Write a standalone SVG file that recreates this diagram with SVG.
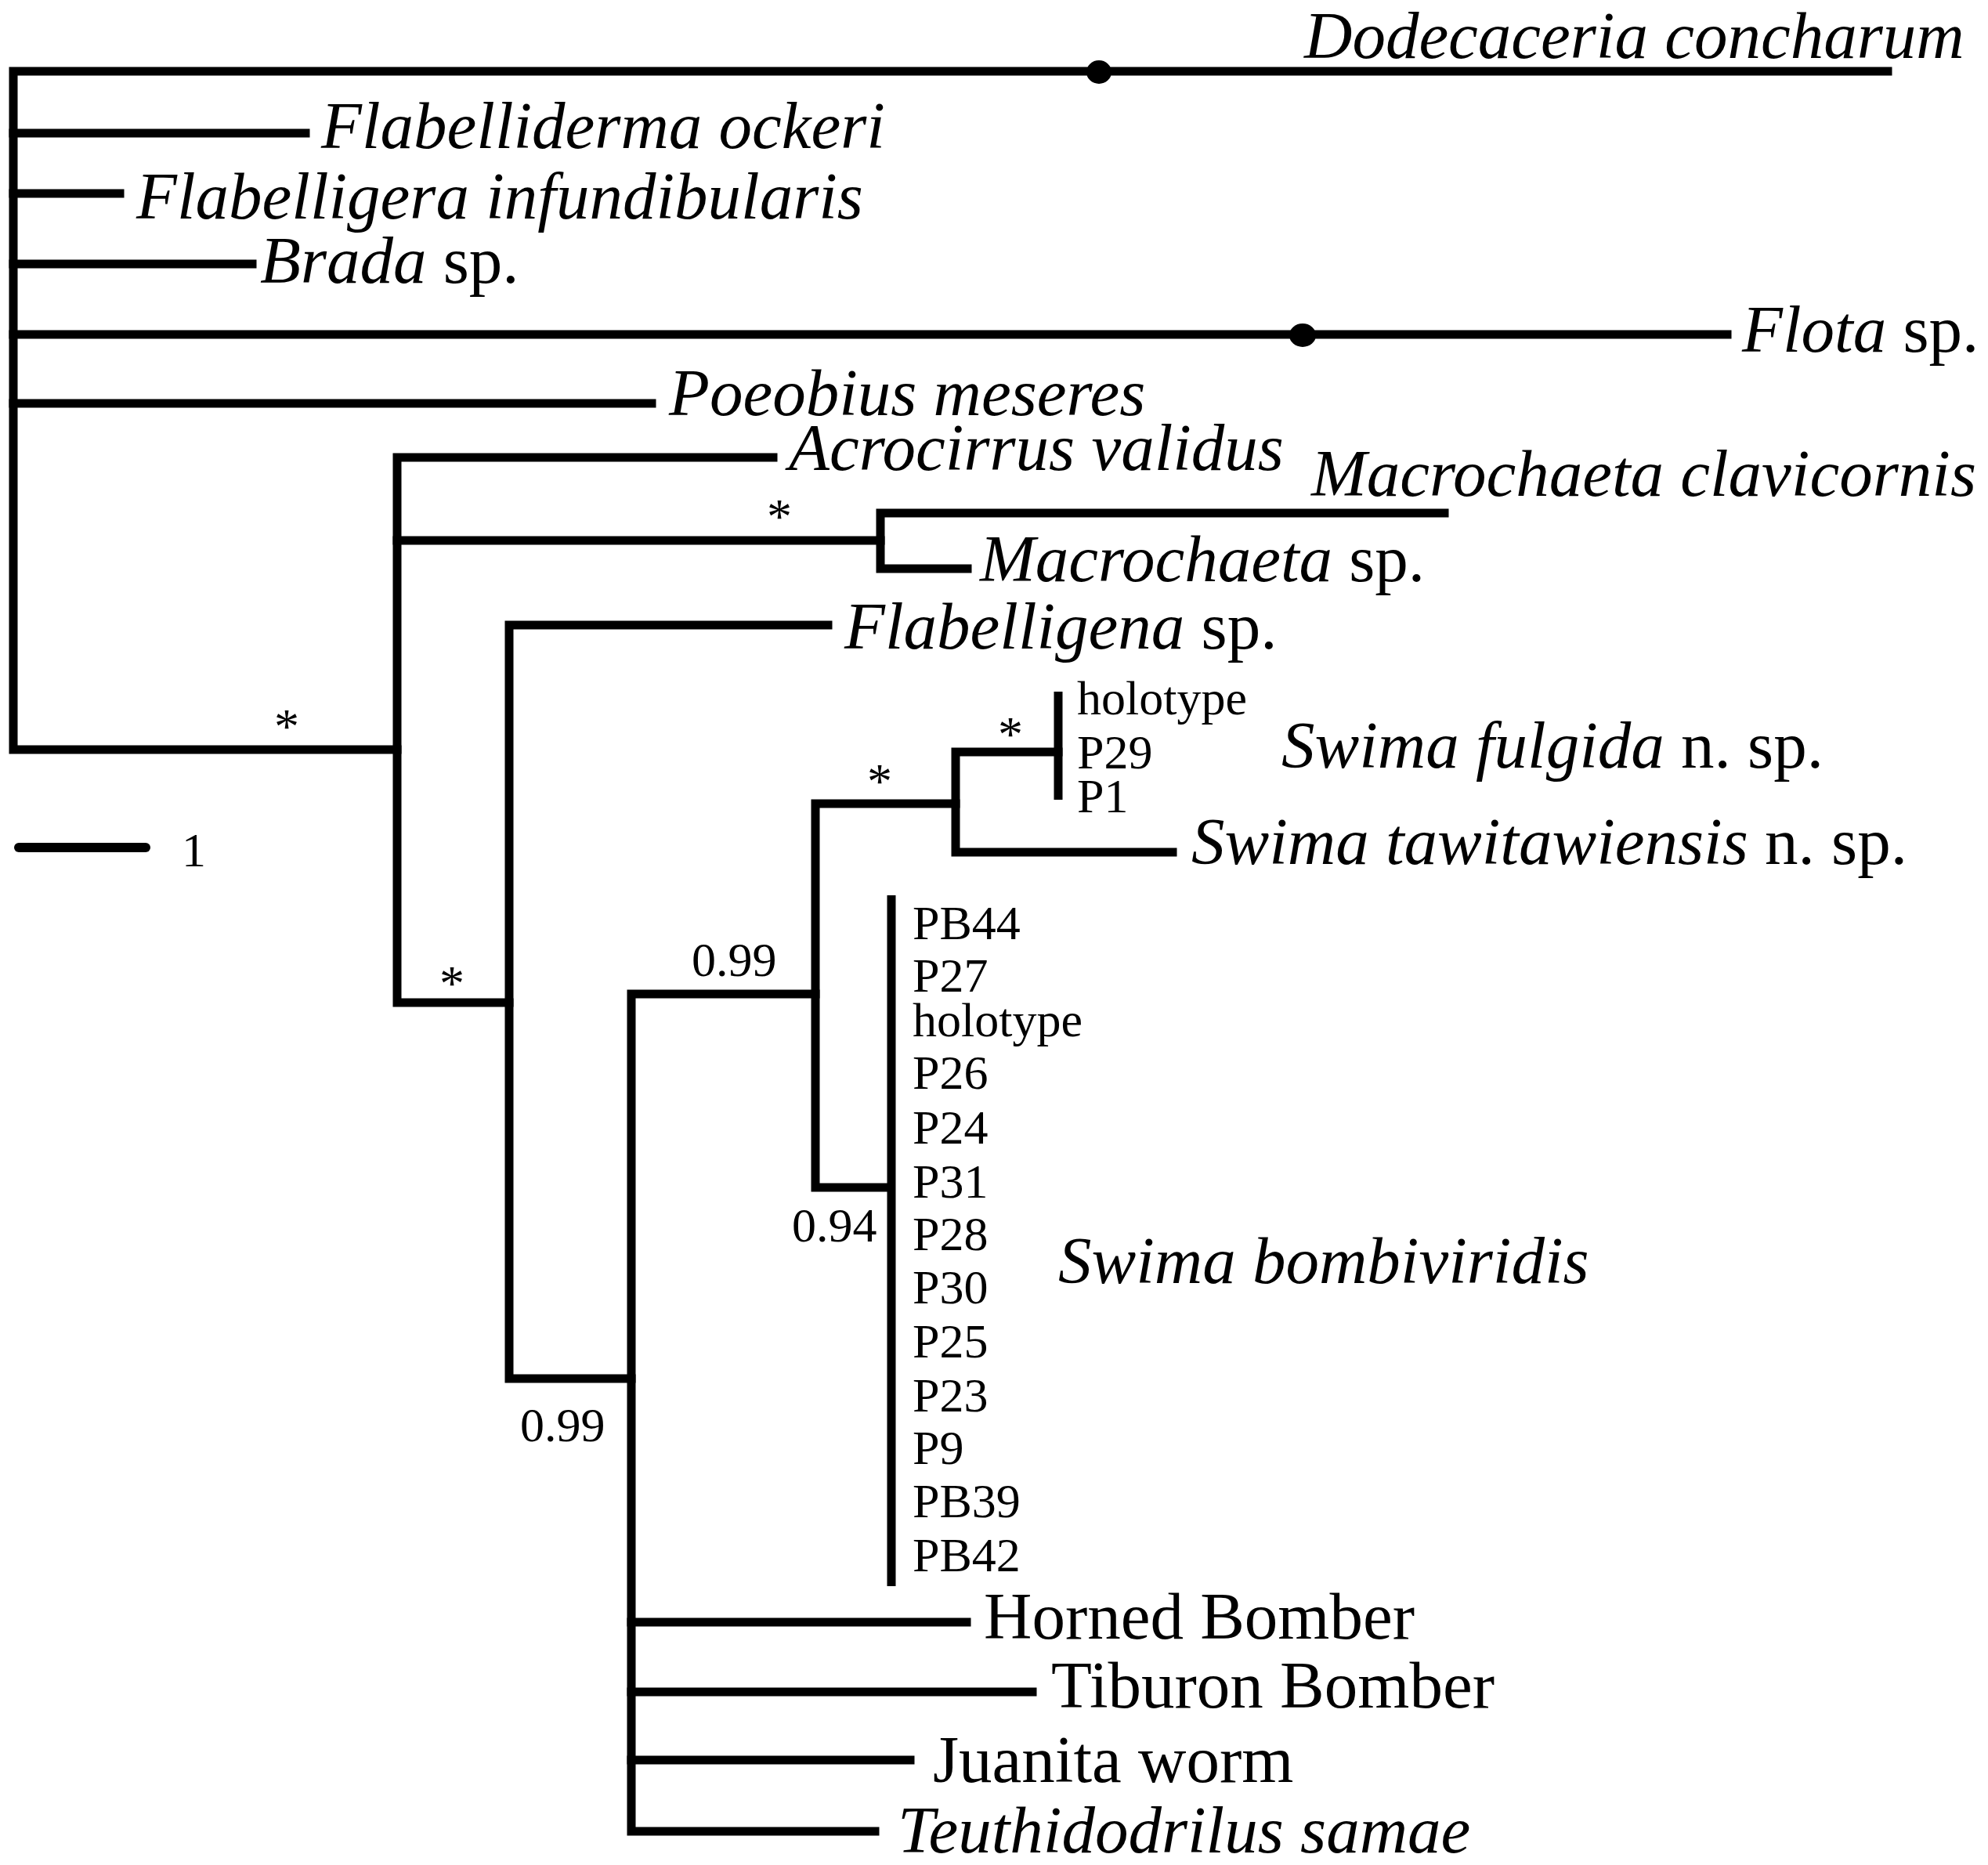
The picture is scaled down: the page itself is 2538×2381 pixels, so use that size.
<svg xmlns="http://www.w3.org/2000/svg" width="2538" height="2381" viewBox="0 0 2538 2381">
<style>
.br{fill:none;stroke:#000;stroke-width:11;stroke-linejoin:miter;stroke-linecap:square}
.bar{fill:none;stroke:#000;stroke-width:11;stroke-linecap:butt}
.big{font-family:"Liberation Serif","Times New Roman",serif;font-size:85px;fill:#000}
.sm{font-family:"Liberation Serif","Times New Roman",serif;font-size:62px;fill:#000}
.it{font-style:italic}
.st{font-family:"Liberation Serif","Times New Roman",serif;font-size:64px;fill:#000;text-anchor:middle}
</style>
<rect width="2538" height="2381" fill="#fff"/>
<g id="connectors">
<path class="br" d="M2410 91 H17 V957 H507"/>
<path class="br" d="M17 170 H390"/>
<path class="br" d="M17 247 H153"/>
<path class="br" d="M17 337 H322"/>
<path class="br" d="M17 427 H2205"/>
<path class="br" d="M17 515 H832"/>
<path class="br" d="M987 584 H507 V1280 H650"/>
<path class="br" d="M507 690 H1124"/>
<path class="br" d="M1844 655 H1124 V726 H1235"/>
<path class="br" d="M1057 798 H650 V1760 H806"/>
<path class="br" d="M1041 1269 H806 V2338 H1117"/>
<path class="br" d="M806 2071 H1234"/>
<path class="br" d="M806 2160 H1318"/>
<path class="br" d="M806 2247 H1162"/>
<path class="br" d="M1220 1026 H1041 V1516 H1137"/>
<path class="br" d="M1351 960 H1220 V1088 H1497"/>
<path class="bar" d="M1351 883 V1021"/>
<path class="bar" d="M1138 1143 V2025"/>
<ellipse cx="1403" cy="92" rx="16" ry="15" fill="#000"/>
<ellipse cx="1663" cy="428" rx="17" ry="15" fill="#000"/>
</g>
<g id="scale">
<path d="M24 1082 H186" stroke="#000" stroke-width="12" stroke-linecap="round" fill="none"/>
<text class="sm" x="232" y="1106">1</text>
</g>
<g id="support">
<text class="st" x="366" y="949">*</text>
<text class="st" x="995" y="681">*</text>
<text class="st" x="577" y="1277">*</text>
<text class="st" x="1123" y="1019">*</text>
<text class="st" x="1290" y="959">*</text>
<text class="sm" x="883" y="1246">0.99</text>
<text class="sm" x="1011" y="1585">0.94</text>
<text class="sm" x="664" y="1840">0.99</text>
</g>
<g id="n-dodecaceria"><text class="big it" x="1665" y="74">Dodecaceria concharum</text></g>
<g id="n-flabelliderma"><text class="big it" x="410" y="189">Flabelliderma ockeri</text></g>
<g id="n-flabelligera"><text class="big it" x="174" y="279">Flabelligera infundibularis</text></g>
<g id="n-brada"><text class="big" x="332" y="361"><tspan class="it">Brada</tspan> sp.</text></g>
<g id="n-flota"><text class="big" x="2224" y="449"><tspan class="it">Flota</tspan> sp.</text></g>
<g id="n-poeobius"><text class="big it" x="854" y="530">Poeobius meseres</text></g>
<g id="n-acrocirrus"><text class="big it" x="1007" y="600">Acrocirrus validus</text></g>
<g id="n-macro-clav"><text class="big it" x="1674" y="633">Macrochaeta clavicornis</text></g>
<g id="n-macro-sp"><text class="big" x="1251" y="742"><tspan class="it">Macrochaeta</tspan> sp.</text></g>
<g id="n-flabelligena"><text class="big" x="1078" y="828"><tspan class="it">Flabelligena</tspan> sp.</text></g>
<g id="n-fulgida">
<text class="sm" x="1375" y="912">holotype</text>
<text class="sm" x="1375" y="981">P29</text>
<text class="sm" x="1375" y="1037">P1</text>
<text class="big" x="1636" y="980"><tspan class="it">Swima fulgida</tspan> n. sp.</text>
</g>
<g id="n-tawitawiensis"><text class="big" x="1521" y="1103"><tspan class="it">Swima tawitawiensis</tspan> n. sp.</text></g>
<g id="n-bombiviridis">
<text class="sm" x="1165" y="1199">PB44</text>
<text class="sm" x="1165" y="1266">P27</text>
<text class="sm" x="1165" y="1323">holotype</text>
<text class="sm" x="1165" y="1390">P26</text>
<text class="sm" x="1165" y="1460">P24</text>
<text class="sm" x="1165" y="1529">P31</text>
<text class="sm" x="1165" y="1596">P28</text>
<text class="sm" x="1165" y="1664">P30</text>
<text class="sm" x="1165" y="1733">P25</text>
<text class="sm" x="1165" y="1802">P23</text>
<text class="sm" x="1165" y="1869">P9</text>
<text class="sm" x="1165" y="1937">PB39</text>
<text class="sm" x="1165" y="2006">PB42</text>
<text class="big it" x="1351" y="1638">Swima bombiviridis</text>
</g>
<g id="n-horned"><text class="big" x="1256" y="2092">Horned Bomber</text></g>
<g id="n-tiburon"><text class="big" x="1342" y="2180">Tiburon Bomber</text></g>
<g id="n-juanita"><text class="big" x="1191" y="2275">Juanita worm</text></g>
<g id="n-teuthidodrilus"><text class="big it" x="1146" y="2365">Teuthidodrilus samae</text></g>
</svg>
